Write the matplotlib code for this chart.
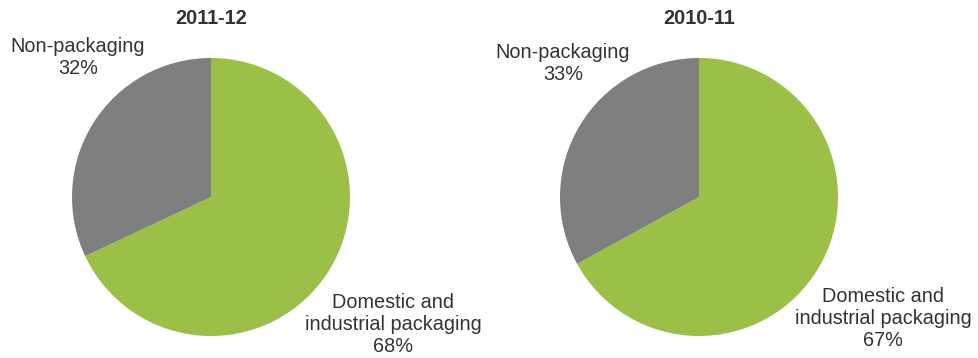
import matplotlib
matplotlib.use("Agg")
import matplotlib.pyplot as plt

plt.rcParams['font.family'] = ['Liberation Sans', 'DejaVu Sans']

years = ['2011-12', '2010-11']
packaging_share = [68, 67]
non_packaging_share = [32, 33]
slice_names = ['Domestic and\nindustrial packaging', 'Non-packaging']

green = '#9bbf47'
grey = '#7f7f80'
text_col = '#333333'

W, H = 979, 358
fig = plt.figure(figsize=(W / 100, H / 100), dpi=100)

centres = [211, 699]   # pie centre x in pixels
cy, r = 197, 139
# label anchor points (pixels) for non-packaging and packaging text
np_pos = [(78, 57), (563, 64)]
pk_pos = [(393, 325), (883, 319)]

for i in range(2):
    ax = fig.add_axes([(centres[i] - r) / W, (H - cy - r) / H, 2 * r / W, 2 * r / H])
    ax.pie([packaging_share[i], non_packaging_share[i]], colors=[green, grey],
           startangle=90, counterclock=False, radius=1,
           wedgeprops=dict(linewidth=0))
    ax.set_xlim(-1, 1)
    ax.set_ylim(-1, 1)
    ax.set_aspect('equal')
    ax.axis('off')

    fig.text(centres[i] / W, 1 - 18 / H, years[i], ha='center', va='center',
             fontsize=14.3, fontweight='bold', color=text_col)
    x, y = np_pos[i]
    fig.text(x / W, 1 - y / H, '%s\n%d%%' % (slice_names[1], non_packaging_share[i]),
             ha='center', va='center', fontsize=14.3, color=text_col, linespacing=1.2)
    x, y = pk_pos[i]
    fig.text(x / W, 1 - y / H, '%s\n%d%%' % (slice_names[0], packaging_share[i]),
             ha='center', va='center', fontsize=14.3, color=text_col, linespacing=1.2)

fig.savefig('out.png', dpi=100)
